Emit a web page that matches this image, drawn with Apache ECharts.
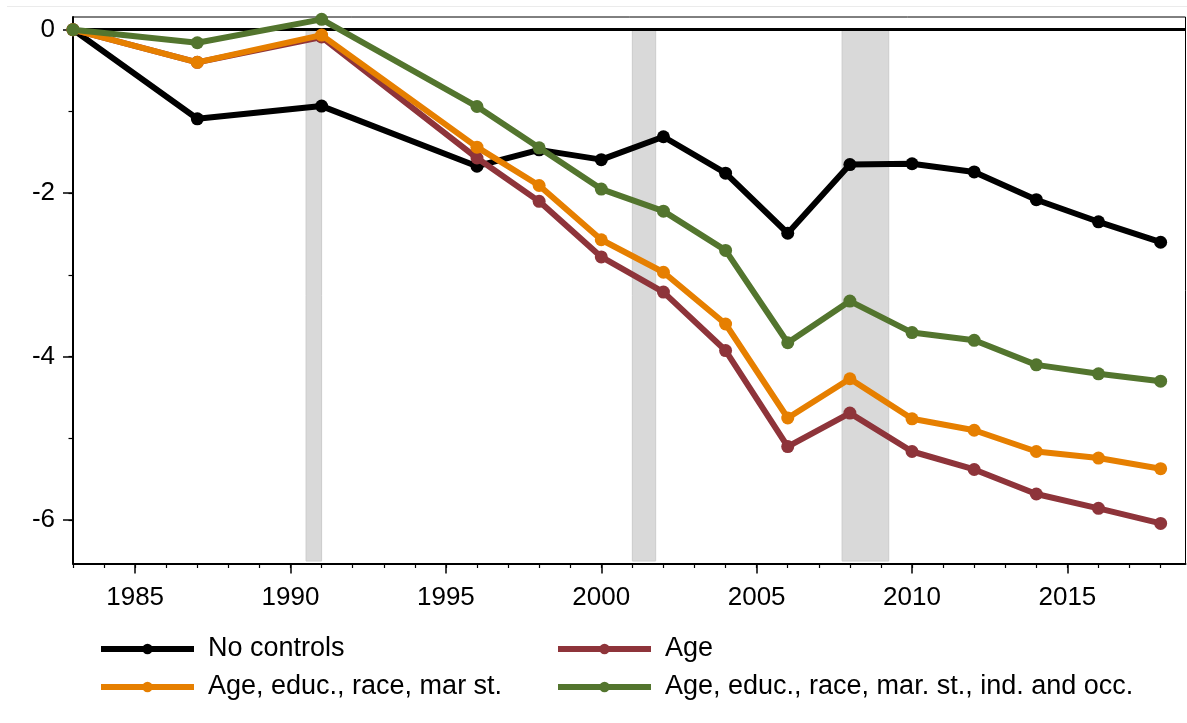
<!DOCTYPE html>
<html>
<head>
<meta charset="utf-8">
<script src="https://cdn.jsdelivr.net/npm/echarts@6/dist/echarts.min.js"></script>
<style>
html, body { margin: 0; padding: 0; background: #fff; }
#mainChart { width: 1187px; height: 723px; }
</style>
</head>
<body>
<div id="mainChart"></div>
<script>
// survey years
var years = [1983, 1987, 1991, 1996, 1998, 2000, 2002, 2004, 2006, 2008, 2010, 2012, 2014, 2016, 2018];
// estimates, one array per specification
var noControls = [0, -1.09, -0.935, -1.67, -1.47, -1.59, -1.31, -1.755, -2.49, -1.65, -1.64, -1.74, -2.08, -2.35, -2.60];
var ageOnly = [0, -0.40, -0.09, -1.57, -2.10, -2.78, -3.21, -3.925, -5.10, -4.69, -5.16, -5.38, -5.68, -5.855, -6.04];
var ageEducRaceMar = [0, -0.40, -0.066, -1.437, -1.906, -2.57, -2.967, -3.60, -4.75, -4.27, -4.76, -4.90, -5.16, -5.24, -5.37];
var allControls = [0, -0.16, 0.126, -0.94, -1.445, -1.95, -2.22, -2.70, -3.83, -3.32, -3.705, -3.80, -4.10, -4.21, -4.30];
var seriesNames = ["No controls", "Age", "Age, educ., race, mar st.", "Age, educ., race, mar. st., ind. and occ."];
// recession shading (start, end)
var recessions = [[1990.5, 1991.0], [2001.0, 2001.75], [2007.75, 2009.25]];
var bandBottom = -6.5;
// ticks
var xLabelTicks = [1985, 1990, 1995, 2000, 2005, 2010, 2015];
var xMinorTicks = [1983, 1984, 1985, 1986, 1987, 1988, 1989, 1990, 1991, 1992, 1993, 1994, 1995, 1996, 1997, 1998, 1999, 2000,
    2001, 2002, 2003, 2004, 2005, 2006, 2007, 2008, 2009, 2010, 2011, 2012, 2013, 2014, 2015, 2016, 2017, 2018];
var yLabelTicks = [0, -2, -4, -6];
var yMinorTicks = [0, -1, -2, -3, -4, -5, -6];

var colors = ["#000000", "#8e343a", "#e67f00", "#53752e"];
var FONT = '"Liberation Sans", Arial, sans-serif';

function pairs(vals) {
    var out = [];
    for (var i = 0; i < years.length; i++) {
        out.push([years[i], vals[i]]);
    }
    return out;
}

var myChart = echarts.init(document.getElementById("mainChart"));

var bandData = [];
for (var i = 0; i < recessions.length; i++) {
    bandData.push([{xAxis: recessions[i][0], yAxis: 0}, {xAxis: recessions[i][1], yAxis: bandBottom}]);
}

var allValues = [noControls, ageOnly, ageEducRaceMar, allControls];
var series = [{
    name: "bands",
    type: "line",
    data: [],
    z: 1,
    markArea: {
        silent: true,
        itemStyle: {color: "#d9d9d9", borderColor: "#cccccc", borderWidth: 1},
        data: bandData
    },
    markLine: {
        silent: true,
        symbol: ["none", "none"],
        label: {show: false},
        lineStyle: {color: "#000", width: 3, type: "solid"},
        data: [{yAxis: 0}]
    }
}];
for (var s = 0; s < allValues.length; s++) {
    series.push({
        name: seriesNames[s],
        type: "line",
        data: pairs(allValues[s]),
        symbol: "circle",
        symbolSize: 13,
        z: 3 + s,
        lineStyle: {color: colors[s], width: 6},
        itemStyle: {color: colors[s]},
        emphasis: {disabled: true}
    });
}

var legendBase = {
    orient: "vertical",
    top: 635.5,
    padding: 0,
    itemWidth: 93,
    itemHeight: 13,
    itemGap: 11,
    selectedMode: false,
    lineStyle: {width: 6},
    textStyle: {fontSize: 27, color: "#000", fontFamily: FONT, lineHeight: 27, padding: [0, 0, 0, 9]}
};

var option = {
    animation: false,
    backgroundColor: "#fff",
    textStyle: {fontFamily: FONT},
    grid: {
        show: true,
        left: 73,
        top: 17,
        right: 1.5,
        bottom: 159.5,
        borderColor: "#000",
        borderWidth: 1
    },
    legend: [
        Object.assign({}, legendBase, {left: 98, data: [seriesNames[0], seriesNames[2]]}),
        Object.assign({}, legendBase, {left: 555, data: [seriesNames[1], seriesNames[3]]})
    ],
    xAxis: [{
        type: "value",
        min: 1983,
        max: 2018.8,
        axisLine: {show: true, onZero: false, lineStyle: {color: "#000", width: 2}},
        axisTick: {show: true, customValues: xLabelTicks, length: 10, lineStyle: {color: "#000", width: 1.5}},
        axisLabel: {customValues: xLabelTicks, fontSize: 26, color: "#000", margin: 21.5, formatter: function (v) { return String(v); }},
        splitLine: {show: false}
    }, {
        type: "value",
        min: 1983,
        max: 2018.8,
        position: "bottom",
        axisLine: {show: false, onZero: false},
        axisTick: {show: true, customValues: xMinorTicks, length: 4.5, lineStyle: {color: "#000", width: 1.2}},
        axisLabel: {show: false},
        splitLine: {show: false}
    }],
    yAxis: [{
        type: "value",
        min: -6.53,
        max: 0.155,
        axisLine: {show: true, onZero: false, lineStyle: {color: "#000", width: 2}},
        axisTick: {show: true, customValues: yLabelTicks, length: 10, lineStyle: {color: "#000", width: 1.5}},
        axisLabel: {customValues: yLabelTicks, fontSize: 26, color: "#000", margin: 18, formatter: function (v) { return String(v); }},
        splitLine: {show: false}
    }, {
        type: "value",
        min: -6.53,
        max: 0.155,
        position: "left",
        axisLine: {show: false, onZero: false},
        axisTick: {show: true, customValues: yMinorTicks, length: 4.5, lineStyle: {color: "#000", width: 1.2}},
        axisLabel: {show: false},
        splitLine: {show: false}
    }],
    graphic: [{
        type: "line",
        silent: true,
        shape: {x1: 7, y1: 6.5, x2: 1187, y2: 6.5},
        style: {stroke: "#ebebeb", lineWidth: 1}
    }],
    series: series
};

myChart.setOption(option);
</script>
</body>
</html>
